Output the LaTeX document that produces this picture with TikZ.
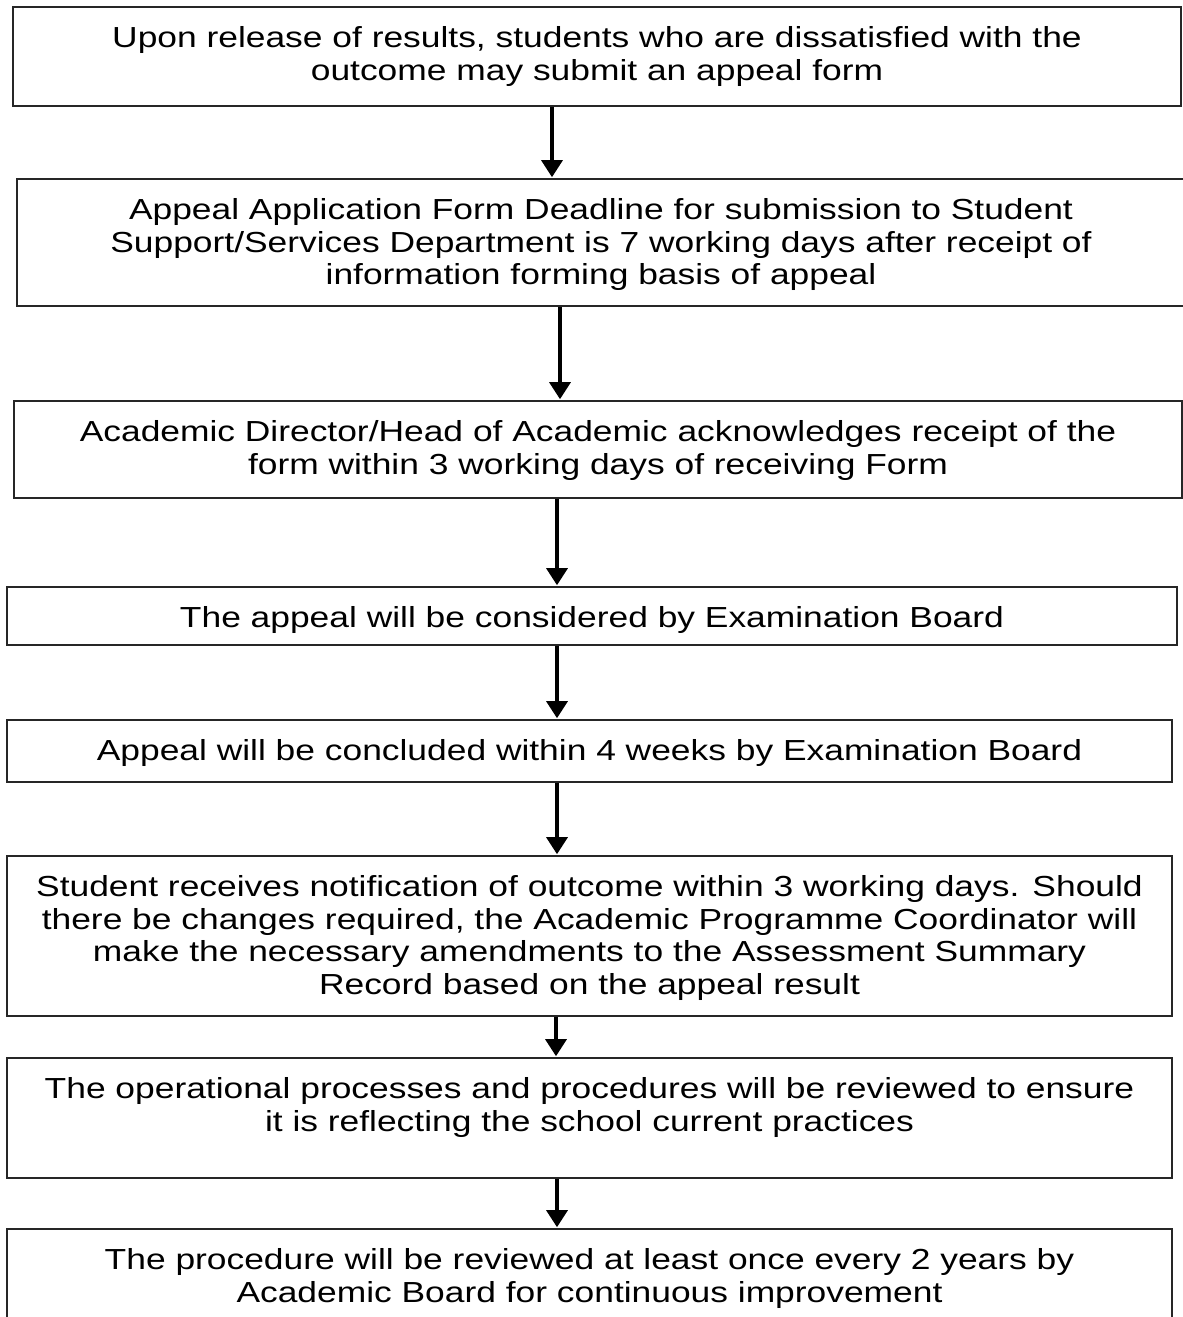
\documentclass[tikz,border=0pt]{standalone}
\usepackage{fontspec}
\setmainfont{Liberation Sans}[FakeStretch=1.22]
\usetikzlibrary{arrows.meta}
\newcommand\stepstrut{\rule{0pt}{24pt}}
\begin{document}
\begin{tikzpicture}[x=1pt,y=-1pt,
  stepbox/.style={draw=black!85, line width=1.6pt, inner sep=0pt},
  steptext/.style={anchor=north, inner sep=0pt, align=center,
    font=\fontsize{29}{32.7}\selectfont},
  flow/.style={line width=3.2pt, -{Triangle[width=21pt,length=17pt]}, shorten >=1pt}]
\useasboundingbox (0,0) rectangle (1183,1317);
\fill[white] (0,0) rectangle (1183,1317);

% process boxes
\node[stepbox, minimum width=1168pt, minimum height=99pt]  (b1) at (597,56.5) {};
\node[stepbox, minimum width=1168pt, minimum height=127pt] (b2) at (601,242.5) {};
\node[stepbox, minimum width=1168pt, minimum height=97pt]  (b3) at (598,449.5) {};
\node[stepbox, minimum width=1170pt, minimum height=58pt]  (b4) at (592,616) {};
\node[stepbox, minimum width=1165pt, minimum height=62pt]  (b5) at (589.5,751) {};
\node[stepbox, minimum width=1165pt, minimum height=160pt] (b6) at (589.5,936) {};
\node[stepbox, minimum width=1165pt, minimum height=120pt] (b7) at (589.5,1118) {};
\node[stepbox, minimum width=1165pt, minimum height=116pt] (b8) at (589.5,1287) {};

% box texts, first baseline about 40pt below the top edge
\node[steptext] (t1) at ([yshift=-17pt]b1.north) {\stepstrut Upon release of results, students who are dissatisfied with the\\ outcome may submit an appeal form};
\node[steptext] (t2) at ([yshift=-17pt]b2.north) {\stepstrut Appeal Application Form Deadline for submission to Student\\ Support/Services Department is 7 working days after receipt of\\ information forming basis of appeal};
\node[steptext] (t3) at ([yshift=-17pt]b3.north) {\stepstrut Academic Director/Head of Academic acknowledges receipt of the\\ form within 3 working days of receiving Form};
\node[steptext] (t4) at ([yshift=-17pt]b4.north) {\stepstrut The appeal will be considered by Examination Board};
\node[steptext] (t5) at ([yshift=-17pt]b5.north) {\stepstrut Appeal will be concluded within 4 weeks by Examination Board};
\node[steptext] (t6) at ([yshift=-17pt]b6.north) {\stepstrut Student receives notification of outcome within 3 working days. Should\\ there be changes required, the Academic Programme Coordinator will\\ make the necessary amendments to the Assessment Summary\\ Record based on the appeal result};
\node[steptext] (t7) at ([yshift=-17pt]b7.north) {\stepstrut The operational processes and procedures will be reviewed to ensure\\ it is reflecting the school current practices};
\node[steptext] (t8) at ([yshift=-17pt]b8.north) {\stepstrut The procedure will be reviewed at least once every 2 years by\\ Academic Board for continuous improvement};

% arrow columns
\coordinate (ax1) at (552,0);
\coordinate (ax2) at (560,0);
\coordinate (ax3) at (557,0);
\coordinate (ax4) at (557,0);
\coordinate (ax5) at (557,0);
\coordinate (ax6) at (556,0);
\coordinate (ax7) at (557,0);

\draw[flow] (b1.south -| ax1) -- (b2.north -| ax1);
\draw[flow] (b2.south -| ax2) -- (b3.north -| ax2);
\draw[flow] (b3.south -| ax3) -- (b4.north -| ax3);
\draw[flow] (b4.south -| ax4) -- (b5.north -| ax4);
\draw[flow] (b5.south -| ax5) -- (b6.north -| ax5);
\draw[flow] (b6.south -| ax6) -- (b7.north -| ax6);
\draw[flow] (b7.south -| ax7) -- (b8.north -| ax7);
\end{tikzpicture}
\end{document}
